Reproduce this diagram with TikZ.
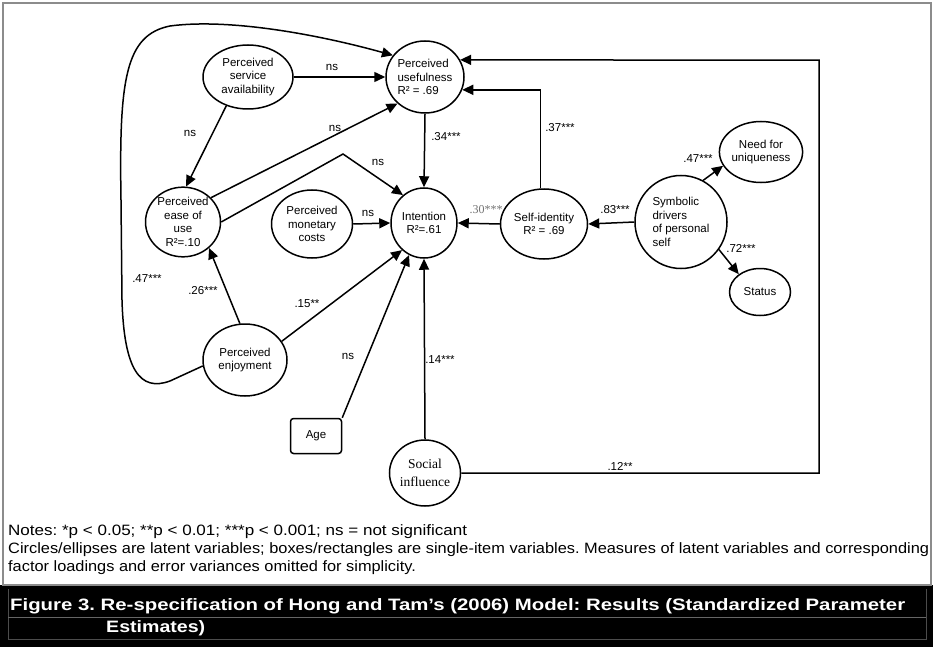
\documentclass[tikz,border=0pt]{standalone}
\usepackage{fontspec}
\setmainfont{Liberation Sans}
\newfontfamily\seriffont{Liberation Serif}
\usetikzlibrary{arrows.meta,shapes.geometric,calc}
\begin{document}
\frenchspacing
\begin{tikzpicture}[x=1pt,y=-1pt,
  lat/.style={ellipse,draw,line width=1.5pt,inner sep=0pt,align=center,
    font=\fontsize{11.5}{13.6}\selectfont},
  itembox/.style={rectangle,rounded corners=3pt,draw,line width=1.5pt,inner sep=0pt,
    font=\fontsize{11.5}{13.6}\selectfont},
  lbl/.style={font=\fontsize{11.5}{13.6}\selectfont,inner sep=0pt},
  slbl/.style={font=\seriffont\fontsize{12}{14}\selectfont,inner sep=0pt,text=black!55},
  arr/.style={line width=1.5pt,-{Triangle[length=11pt,width=10pt]}},
  frameline/.style={draw=black!45,line width=1.6pt},
  notetext/.style={font=\fontsize{15}{17}\selectfont,inner sep=0pt,anchor=base west},
  captext/.style={font=\bfseries\fontsize{16.5}{20}\selectfont,text=white,inner sep=0pt,anchor=base west}]
\useasboundingbox (0,0) rectangle (933,647);
\fill[white] (0,0) rectangle (933,647);
% caption band
\fill[black] (0,585) rectangle (933,647);
\draw[black!70,line width=0.8pt] (8,589) -- (8,639) -- (926,639) -- (926,589);
\draw[black!60,line width=0.5pt] (8,617) -- (926,617);
\draw[frameline] (3,3) rectangle (931,585);

% nodes
\node[lat,minimum width=90pt,minimum height=64pt] (psa) at (248,77) {Perceived\\service\\availability};
\node[lat,minimum width=78pt,minimum height=72pt,align=left] (pu) at (425,77) {Perceived\\usefulness\\R² = .69};
\node[lat,minimum width=66pt,minimum height=70pt] (intn) at (424,223) {Intention\\R²=.61};
\node[lat,minimum width=87pt,minimum height=70pt] (selfid) at (544,224) {Self-identity\\R² = .69};
\node[lat,minimum width=92pt,minimum height=93pt,align=left] (symb) at (681,222) {Symbolic\\drivers\\of personal\\self};
\node[lat,minimum width=83pt,minimum height=61pt] (nfu) at (761,152) {Need for\\uniqueness};
\node[lat,minimum width=61pt,minimum height=47pt] (status) at (760,292) {Status};
\node[lat,minimum width=75pt,minimum height=69pt] (peou) at (183,222) {Perceived\\ease of\\use\\R²=.10};
\node[lat,minimum width=81pt,minimum height=68pt] (pmc) at (312,224) {Perceived\\monetary\\costs};
\node[lat,minimum width=84pt,minimum height=72pt] (pe) at (245,360) {Perceived\\enjoyment};
\node[itembox,minimum width=51pt,minimum height=35pt] (age) at (316,436) {Age};
\node[lat,minimum width=67pt,minimum height=66pt,font=\seriffont\fontsize{13.5}{18}\selectfont] (sinf) at (425,473) {Social\\influence};

\coordinate (apex) at (343,154);
\coordinate (rc) at (819,60.2);

% connectors
\draw[arr] (psa.east) -- (pu.west);
\draw[arr] (psa.233) -- (peou.85);
\draw[arr] (peou.41) -- (pu.224);
\draw[arr] (peou.east) -- (apex) -- (intn.127);
\draw[arr] (pu.south) -- (intn.north);
\draw[arr] (pmc.east) -- (intn.west);
\draw[arr] (selfid.west) -- (intn.east);
\draw[arr] (symb.west) -- (selfid.east);
\draw[arr] (symb.62) -- (nfu.200);
\draw[arr] (symb.-36) -- (status.140);
\draw[arr] (selfid.96) |- (pu.-19);
\draw[arr] (sinf.east) -| (rc) -- (pu.26);
\draw[arr] (pe.98) -- (peou.-45);
\draw[arr] (pe.27) -- (intn.231);
\draw[arr] (age.north east) -- (intn.245);
\draw[arr] (sinf.north) -- (intn.south);
\draw[arr] (pe.188) -- (170,381) .. controls (140,392) and (124,370) .. (122,300)
  -- (121,200) .. controls (119,80) and (125,35) .. (170,26)
  .. controls (230,18) and (320,35) .. (pu.146);

% labels
\node[lbl] at (332,67) {ns};
\node[lbl] at (190,133) {ns};
\node[lbl] at (335,128) {ns};
\node[lbl] at (378,162) {ns};
\node[lbl] at (446,137) {.34***};
\node[lbl] at (560,128) {.37***};
\node[lbl] at (698,159) {.47***};
\node[lbl] at (368,213) {ns};
\node[slbl] at (486,210) {.30***};
\node[lbl] at (615,210) {.83***};
\node[lbl] at (741,248) {.72***};
\node[lbl] at (147,279) {.47***};
\node[lbl] at (203,291) {.26***};
\node[lbl] at (307,304) {.15**};
\node[lbl] at (348,356) {ns};
\node[lbl] at (440,360) {.14***};
\node[lbl] at (620,466) {.12**};

% notes
\node[notetext] at (8,535.5) {\resizebox{459pt}{\height}{Notes: *p < 0.05; **p < 0.01; ***p < 0.001; ns = not significant}};
\node[notetext] at (8,553.5) {\resizebox{921pt}{\height}{Circles/ellipses are latent variables; boxes/rectangles are single-item variables. Measures of latent variables and corresponding}};
\node[notetext] at (8,571) {\scalebox{1.09}[1]{factor loadings and error variances omitted for simplicity.}};
\node[captext] at (10,610) {\resizebox{895pt}{\height}{Figure 3. Re-specification of Hong and Tam’s (2006) Model: Results (Standardized Parameter}};
\node[captext] at (106,632) {\resizebox{99pt}{\height}{Estimates)}};
\end{tikzpicture}
\end{document}
